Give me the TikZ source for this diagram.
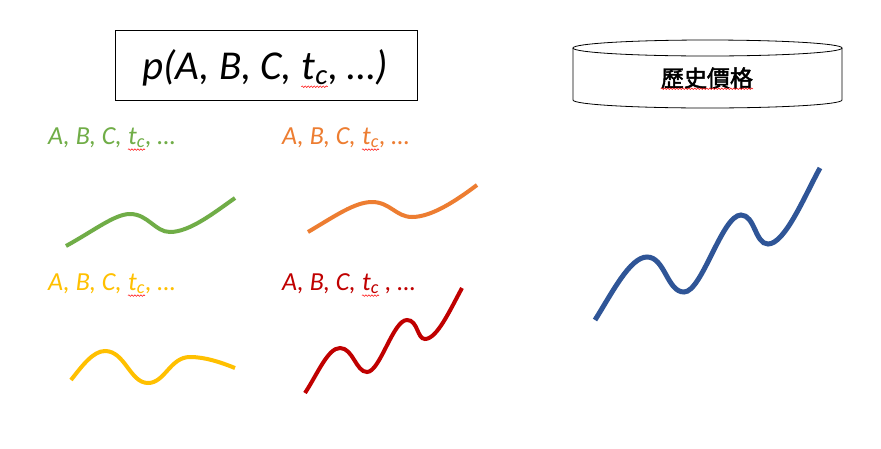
\documentclass[tikz,border=0pt]{standalone}
\usepackage{fontspec}
\setmainfont{Carlito}
\newfontfamily\cjk{Noto Sans CJK TC}[AutoFakeBold=2]
\usetikzlibrary{decorations.pathmorphing}
\definecolor{cgreen}{HTML}{70AD47}
\definecolor{corange}{HTML}{ED7D31}
\definecolor{cyellow}{HTML}{FFC000}
\definecolor{cred}{HTML}{C00000}
\definecolor{cblue}{HTML}{2F5597}
\tikzset{
  curve/.style={line width=4pt, line cap=butt},
  lbl/.style={anchor=base west, inner sep=0pt, font=\fontsize{26}{30}\selectfont\itshape},
  big/.style={anchor=base west, inner sep=0pt, font=\fontsize{41}{46}\selectfont\itshape},
  squig/.style={red, line width=0.5pt, decorate, decoration={snake, amplitude=0.8pt, segment length=3pt}}
}
\begin{document}
\begin{tikzpicture}[x=1pt,y=-1pt]
\useasboundingbox[fill=white] (0,0) rectangle (881,448);
% formula box
\node[draw, line width=0.8pt, minimum width=302pt, minimum height=70pt, inner sep=0pt] (box) at (266,65) {};
\node[big] (f1) at (142,79) {p(A, B, C,\ \null};
\node[big] (f2) at (f1.base east) {t\textsubscript{c}};
\node[big] (f3) at (f2.base east) {, …)};
\draw[squig] ([yshift=-2pt]f2.south west) -- ([yshift=-2pt]f2.south east);
% cylinder
\draw[line width=0.8pt, fill=white] (573,48) -- (573,100) arc[start angle=180, end angle=360, x radius=134.5pt, y radius=8pt] -- (842,48);
\draw[line width=0.8pt] (707.5,48) ellipse[x radius=134.5pt, y radius=8pt];
\node[font=\cjk\bfseries\fontsize{23}{26}\selectfont, inner sep=0pt] (dbtext) at (707,78) {歷史價格};
\draw[squig] (dbtext.south west) -- (dbtext.south east);
% labels
\node[lbl, text=cgreen] (lg1) at (48,144) {A, B, C,\ \null};
\node[lbl, text=cgreen] (lg2) at (lg1.base east) {t\textsubscript{c}};
\node[lbl, text=cgreen] (lg3) at (lg2.base east) {, …};
\node[lbl, text=corange] (lo1) at (282,144) {A, B, C,\ \null};
\node[lbl, text=corange] (lo2) at (lo1.base east) {t\textsubscript{c}};
\node[lbl, text=corange] (lo3) at (lo2.base east) {, …};
\node[lbl, text=cyellow] (ly1) at (48,290) {A, B, C,\ \null};
\node[lbl, text=cyellow] (ly2) at (ly1.base east) {t\textsubscript{c}};
\node[lbl, text=cyellow] (ly3) at (ly2.base east) {, …};
\node[lbl, text=cred] (lr1) at (282,290) {A, B, C,\ \null};
\node[lbl, text=cred] (lr2) at (lr1.base east) {t\textsubscript{c}};
\node[lbl, text=cred] (lr3) at (lr2.base east) {\ , …};
\foreach \n in {lg2,lo2,ly2,lr2}
  \draw[squig] ([yshift=-1.5pt]\n.south west) -- ([yshift=-1.5pt]\n.south east);
% curves
\draw[curve, cgreen] (66,246) .. controls (95,230) and (115,214) .. (130,214)
  .. controls (148,214) and (155,232) .. (170,232)
  .. controls (190,232) and (215,212) .. (235,198);
\draw[curve, corange] (308,232) .. controls (335,216) and (355,202) .. (372,202)
  .. controls (390,202) and (396,217) .. (412,217)
  .. controls (432,217) and (457,200) .. (477,185);
\draw[curve, cyellow] (71,380) .. controls (82,366) and (93,351) .. (105,351)
  .. controls (125,351) and (130,383) .. (148,383)
  .. controls (165,383) and (170,357) .. (190,357)
  .. controls (205,357) and (220,362) .. (235,368);
\draw[curve, cred] (305,393) .. controls (318,373) and (328,348) .. (340,348)
  .. controls (353,348) and (356,372) .. (367,372)
  .. controls (380,372) and (393,320) .. (407,320)
  .. controls (418,320) and (417,339) .. (425,339)
  .. controls (437,339) and (450,310) .. (462,288);
\draw[curve, cblue, line width=5pt] (595,320) .. controls (612,293) and (630,257) .. (647,257)
  .. controls (665,257) and (667,292) .. (684,292)
  .. controls (702,292) and (722,215) .. (741,215)
  .. controls (755,215) and (755,244) .. (768,244)
  .. controls (785,244) and (805,195) .. (820,168);
\end{tikzpicture}
\end{document}
